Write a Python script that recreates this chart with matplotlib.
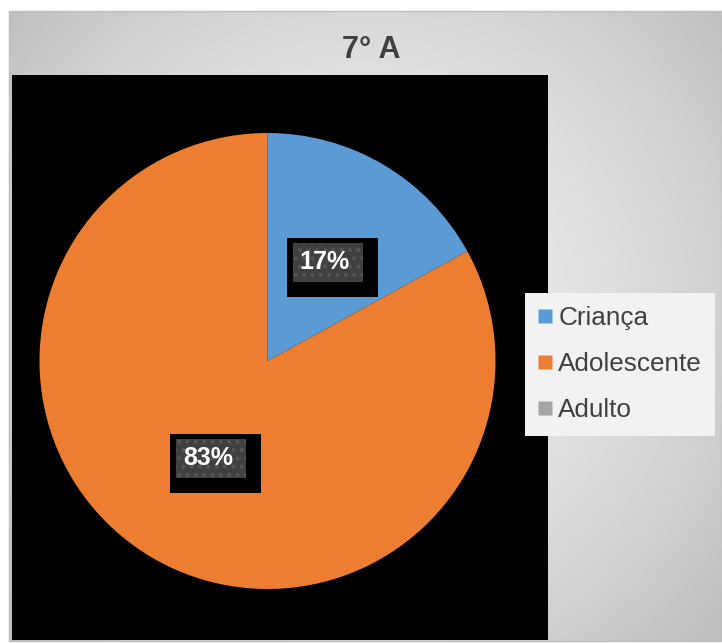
import numpy as np
import matplotlib
matplotlib.use('Agg')
import matplotlib.pyplot as plt
from matplotlib.patches import Rectangle
from matplotlib.lines import Line2D

plt.rcParams['font.family'] = ['Liberation Sans', 'DejaVu Sans']
plt.rcParams['hatch.linewidth'] = 1.6

# faixa etária da turma (%)
categorias = ['Criança', 'Adolescente', 'Adulto']
percentuais = [17, 83, 0]
cores = ['#5B9BD5', '#ED7D31', '#A5A5A5']
titulo = '7° A'

W, H = 722, 643
fig = plt.figure(figsize=(W / 100, H / 100), dpi=100)
fig.patch.set_facecolor('white')

# moldura do gráfico com degradê radial
frame = fig.add_axes([9 / W, 2 / H, (W - 9) / W, (641 - 11) / H])
yy, xx = np.mgrid[0:630, 0:713]
d = np.hypot(xx - 356, yy - 300) / 470
shade = 0.94 - 0.19 * np.clip(d, 0, 1) ** 1.6
frame.imshow(np.dstack([shade] * 3), aspect='auto', extent=(0, 1, 0, 1))
frame.set_xticks([])
frame.set_yticks([])
for s in frame.spines.values():
    s.set_color('#bdbdbd')
    s.set_linewidth(1)

# área da pizza (coordenadas em pixels)
ax = fig.add_axes([12 / W, 3 / H, 536 / W, 565 / H])
ax.set_facecolor('black')

wedges, texts, autotexts = ax.pie(
    percentuais, colors=cores, startangle=90, counterclock=False,
    center=(267.5, 282), radius=228, frame=True,
    autopct=lambda p: f'{p:.0f}%' if p > 0 else '', pctdistance=0.5,
    textprops=dict(color='white', fontsize=18, fontweight='bold'))
ax.set_xlim(12, 548)
ax.set_ylim(3, 568)
ax.set_xticks([])
ax.set_yticks([])
for s in ax.spines.values():
    s.set_visible(False)

# caixas dos rótulos de percentual
for t in autotexts:
    if not t.get_text():
        continue
    tx, ty = t.get_position()
    t.set_zorder(6)
    t.set_va('center')
    t.set_position((tx - 1, ty + 1))
    ax.add_patch(Rectangle((tx - 39, ty - 34), 91, 59, facecolor='black',
                           edgecolor='none', zorder=4))
    ax.add_patch(Rectangle((tx - 33, ty - 19), 70, 39, facecolor='#404040',
                           edgecolor='#555555', linewidth=0, hatch='..',
                           zorder=5))

fig.text(371 / W, 1 - 50 / H, titulo, ha='center', va='center',
         fontsize=22, fontweight='bold', color='#404040')

handles = [Line2D([], [], marker='s', linestyle='none', markersize=10,
                  markerfacecolor=c, markeredgecolor='none') for c in cores]
leg = fig.legend(handles, categorias, loc='upper left',
                 bbox_to_anchor=(525 / W, 1 - 293 / H), frameon=True,
                 fancybox=False, facecolor='#f2f2f2', edgecolor='none',
                 framealpha=1, fontsize=18.8, labelcolor='#404040',
                 handlelength=0.55, handletextpad=0.22, labelspacing=0.85,
                 borderpad=0.5, borderaxespad=0)

fig.savefig('out.png', dpi=100)
